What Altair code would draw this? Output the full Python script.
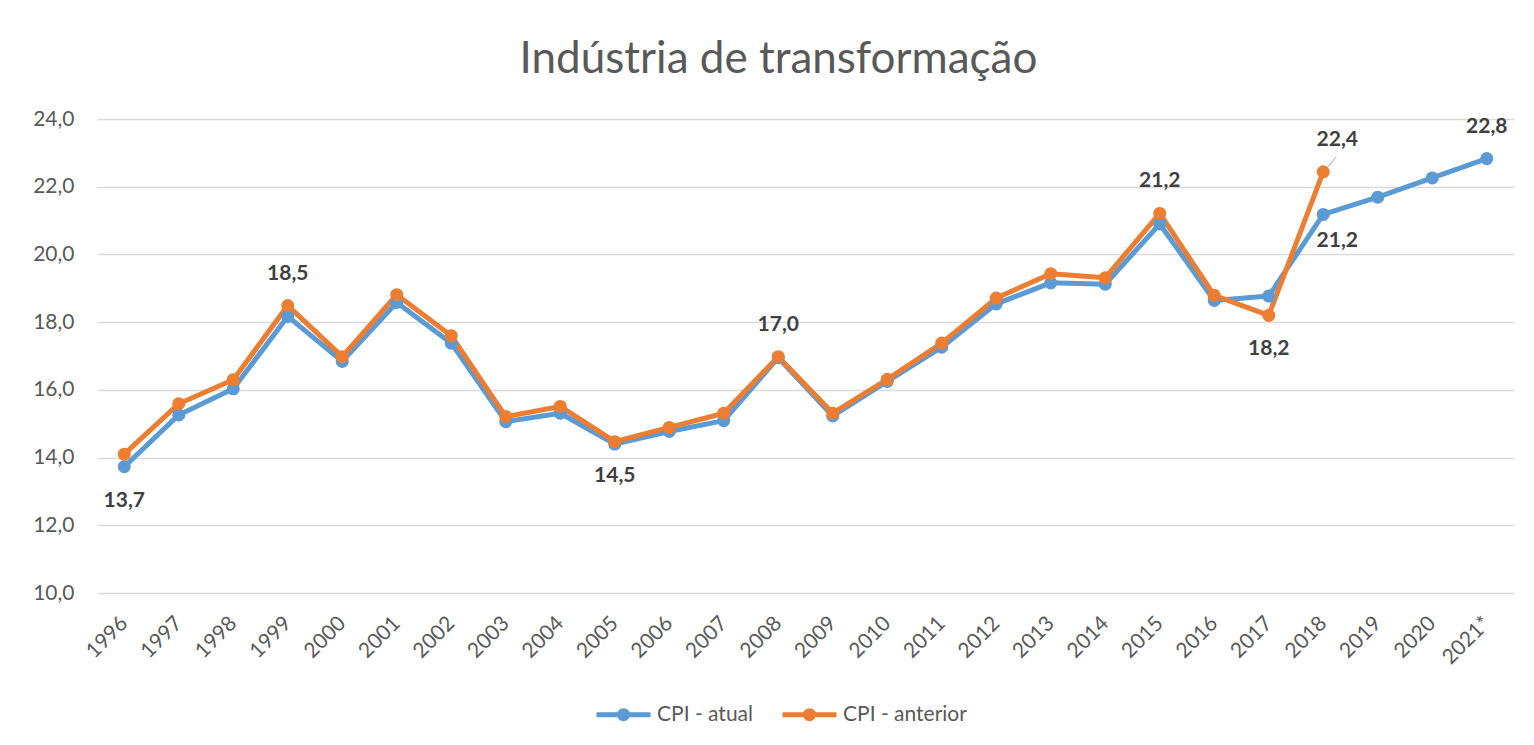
import altair as alt
import pandas as pd

years = ["1996", "1997", "1998", "1999", "2000", "2001", "2002", "2003", "2004",
         "2005", "2006", "2007", "2008", "2009", "2010", "2011", "2012", "2013",
         "2014", "2015", "2016", "2017", "2018", "2019", "2020", "2021*"]
cpi_atual = [13.73, 15.26, 16.03, 18.17, 16.84, 18.58, 17.38, 15.06, 15.31,
             14.40, 14.77, 15.09, 16.95, 15.23, 16.25, 17.26, 18.54, 19.16,
             19.12, 20.90, 18.64, 18.77, 21.18, 21.69, 22.26, 22.83]
cpi_anterior = [14.10, 15.59, 16.30, 18.49, 16.98, 18.81, 17.60, 15.21, 15.51,
                14.47, 14.89, 15.31, 16.98, 15.31, 16.31, 17.38, 18.71, 19.43,
                19.31, 21.21, 18.79, 18.20, 22.44]
series_names = ["CPI - atual", "CPI - anterior"]
series_colors = ["#5B9BD5", "#ED7D31"]

label_years = ["1996", "1999", "2005", "2008", "2015", "2017", "2018", "2018", "2021*"]
label_series = ["CPI - atual", "CPI - anterior", "CPI - anterior", "CPI - anterior",
                "CPI - anterior", "CPI - anterior", "CPI - anterior", "CPI - atual", "CPI - atual"]
label_place = ["below", "above", "below", "above", "above", "below",
               "above_right", "below_right", "above"]

y_ticks = [10, 12, 14, 16, 18, 20, 22, 24]

rows = []
for y, v in zip(years, cpi_atual):
    rows.append({"ano": y, "serie": series_names[0], "valor": v})
for y, v in zip(years, cpi_anterior):
    rows.append({"ano": y, "serie": series_names[1], "valor": v})
df = pd.DataFrame(rows)

lookup = {(r["ano"], r["serie"]): r["valor"] for r in rows}
lab = pd.DataFrame({
    "ano": label_years,
    "serie": label_series,
    "place": label_place,
    "valor": [lookup[(a, s)] for a, s in zip(label_years, label_series)],
})
lab["texto"] = lab["valor"].map(lambda v: f"{v:.1f}".replace(".", ","))

FONT = "Lato"
GRAY = "#595959"

x_enc = alt.X("ano:N", sort=years, scale=alt.Scale(type="point", padding=0.5),
              axis=alt.Axis(title=None, labelAngle=-45, labelAlign="right",
                            labelBaseline="middle", labelFontSize=21, labelColor=GRAY,
                            labelFont=FONT, labelPadding=27, ticks=False, domain=False,
                            grid=False))
y_enc = alt.Y("valor:Q", scale=alt.Scale(domain=[10, 24], nice=False, zero=False),
              axis=alt.Axis(title=None, values=y_ticks, labelFontSize=21, labelColor=GRAY,
                            labelFont=FONT, labelPadding=23, ticks=False, domain=False,
                            grid=True, gridColor="#D9D9D9", gridWidth=1.5,
                            labelExpr="replace(format(datum.value, '.1f'), '.', ',')"))

sym_path = ("M-1,0L1,0"
            "M-0.15,0A0.15,0.15,0,1,1,0.15,0A0.15,0.15,0,1,1,-0.15,0Z"
            "M-0.05,0A0.05,0.05,0,1,1,0.05,0A0.05,0.05,0,1,1,-0.05,0Z")
color_enc = alt.Color("serie:N", sort=series_names,
                      scale=alt.Scale(domain=series_names, range=series_colors),
                      legend=alt.Legend(title=None, orient="none", direction="horizontal",
                                        legendX=497, legendY=566, symbolType=sym_path,
                                        symbolSize=2916, symbolStrokeWidth=5,
                                        labelFontSize=21, labelColor=GRAY, labelFont=FONT,
                                        columnPadding=18, labelOffset=4, padding=0))

base = alt.Chart(df)
lines = base.mark_line(strokeWidth=5, strokeJoin="round").encode(
    x=x_enc, y=y_enc, color=color_enc, detail="serie:N")
points = base.mark_point(filled=True, size=170, opacity=1, shape="circle").encode(
    x=x_enc, y=y_enc,
    color=alt.Color("serie:N", scale=alt.Scale(domain=series_names, range=series_colors),
                    legend=None))

lab_base = alt.Chart(lab)
def text_layer(place, dx, dy):
    return lab_base.transform_filter(alt.datum.place == place).mark_text(
        font=FONT, fontSize=21, fontWeight="bold", color="#404040",
        dx=dx, dy=dy, baseline="middle", align="center").encode(
        x=alt.X("ano:N", sort=years), y="valor:Q", text="texto:N")

leader = lab_base.transform_filter(alt.datum.place == "above_right").mark_rule(
    color="#A6A6A6", strokeWidth=1, xOffset=3, x2Offset=13, yOffset=-3, y2Offset=-15).encode(
    x=alt.X("ano:N", sort=years), x2="ano:N", y="valor:Q", y2="valor:Q")

chart = alt.layer(
    lines, points, leader,
    text_layer("above", 0, -32), text_layer("below", 0, 34),
    text_layer("above_right", 14, -32), text_layer("below_right", 14, 27),
).properties(
    width=1417, height=474,
    background="white",
    autosize=alt.AutoSizeParams(type="none"),
    padding={"left": 89, "top": 111, "right": 12, "bottom": 144},
    title=alt.TitleParams("Indústria de transformação", font=FONT, fontSize=44,
                          fontWeight="normal", color=GRAY, anchor="middle", dx=-27,
                          offset=26),
).configure_view(stroke=None)

chart.save("out.html", embed_options={"renderer": "svg", "actions": False})
